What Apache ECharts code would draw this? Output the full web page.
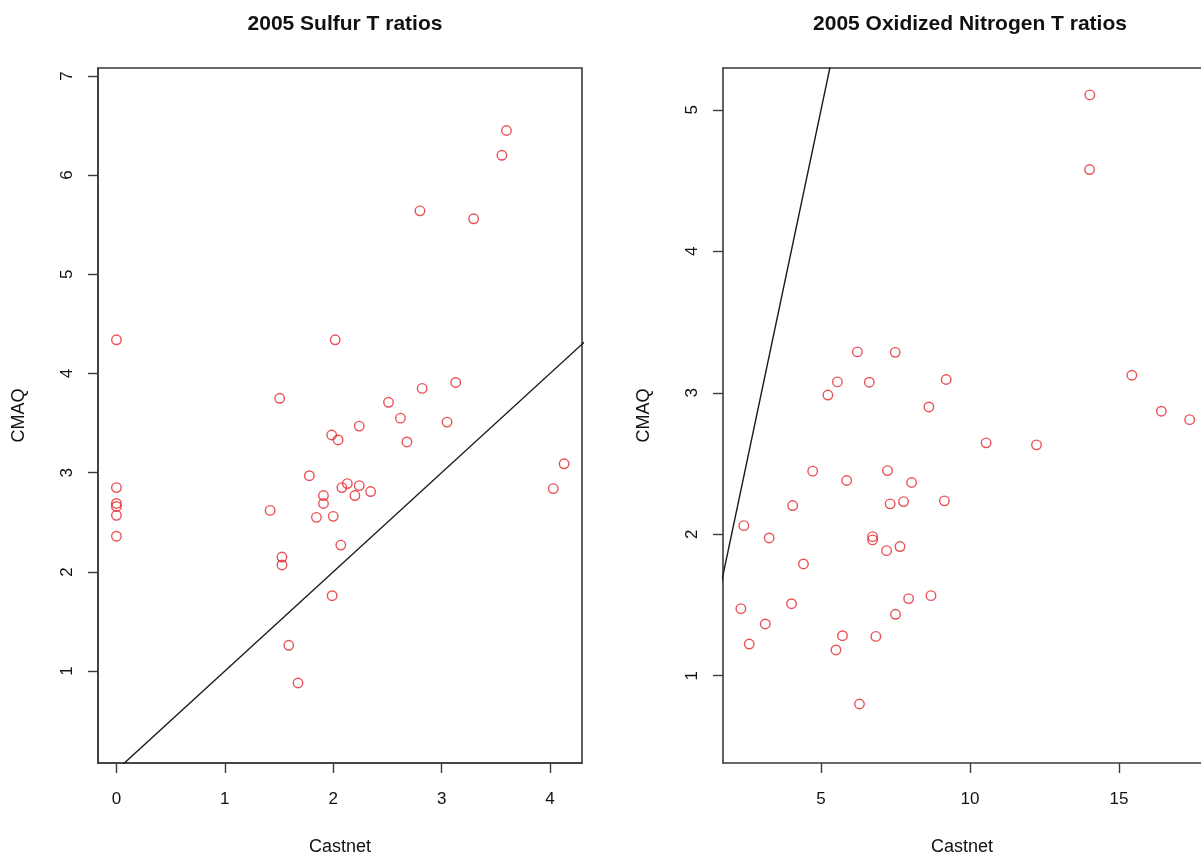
<!DOCTYPE html>
<html>
<head>
<meta charset="utf-8">
<script src="https://cdn.jsdelivr.net/npm/echarts@6/dist/echarts.min.js"></script>
<style>
html,body{margin:0;padding:0;background:#fff;}
#chart{width:1201px;height:861px;}
</style>
</head>
<body>
<div id="chart"></div>
<script>
// ---- Data ----
const titles = ["2005 Sulfur T ratios", "2005 Oxidized Nitrogen T ratios"];
const xName = "Castnet";
const yName = "CMAQ";

const sulfurCastnet = [0,0,0,0,0,0,1.418,1.527,1.527,1.59,1.675,1.78,1.845,1.91,1.91,1.986,2.045,2.0,1.99,2.07,2.08,2.13,2.20,2.24,2.345,2.68,4.03,4.13,2.018,3.598,3.556,2.80,3.295,1.506,2.51,2.62,2.82,3.13,3.05,2.24];
const sulfurCmaq    = [4.34,2.85,2.69,2.66,2.57,2.36,2.62,2.15,2.07,1.26,0.88,2.97,2.55,2.77,2.69,3.38,3.33,2.56,1.76,2.27,2.85,2.89,2.77,2.87,2.81,3.31,2.84,3.09,4.34,6.45,6.20,5.64,5.56,3.75,3.71,3.55,3.85,3.91,3.51,3.47];

const nitrogenCastnet = [14.02,14.01,6.22,7.49,5.55,6.62,5.23,9.20,8.62,15.43,16.42,17.37,10.54,12.23,4.72,7.23,5.86,8.04,4.05,7.32,7.77,9.14,2.41,3.26,6.73,6.73,7.20,7.65,4.41,2.31,4.01,7.94,8.69,7.50,3.13,5.72,6.84,2.59,5.50,6.29];
const nitrogenCmaq    = [5.106,4.578,3.289,3.286,3.077,3.075,2.984,3.094,2.90,3.124,2.87,2.81,2.646,2.632,2.446,2.45,2.38,2.366,2.203,2.215,2.231,2.236,2.061,1.974,1.983,1.96,1.884,1.913,1.79,1.474,1.509,1.545,1.566,1.434,1.366,1.283,1.278,1.224,1.182,0.80];

const sulfurXTicks = [0,1,2,3,4];
const sulfurYTicks = [1,2,3,4,5,6,7];
const nitrogenXTicks = [5,10,15];
const nitrogenYTicks = [1,2,3,4,5];

// axis extents (right panel is cut off by the picture's right edge)
const sulfurXRange = [-0.17, 4.295];
const sulfurYRange = [0.0735, 7.08];
const nitrogenXRange = [1.711, 17.75];
const nitrogenYRange = [0.383, 5.296];

// 1:1 reference line (y = intercept + slope * x)
const refIntercept = 0, refSlope = 1;

// ---- Chart ----
const FONT = '"Liberation Sans", Arial, Helvetica, sans-serif';
const AXC = '#3a3a3a';
const RED = '#e3262d';

function zip(a, b){ return a.map((v,i)=>[v,b[i]]); }
function refLine(range){
  const lo = range[0]-1, hi = range[1]+1;
  return [[lo, refIntercept+refSlope*lo],[hi, refIntercept+refSlope*hi]];
}
function xAxisOf(idx, range, ticks){
  return {
    type:'value', gridIndex:idx, min:range[0], max:range[1], position:'bottom',
    name:xName, nameLocation:'middle', nameGap:75,
    nameTextStyle:{fontFamily:FONT, fontSize:18, color:'#111'},
    axisLine:{show:true, onZero:false, lineStyle:{color:AXC, width:1.6}},
    axisTick:{show:true, length:10, customValues:ticks, lineStyle:{color:AXC, width:1.4}},
    axisLabel:{show:true, customValues:ticks, margin:28, fontFamily:FONT, fontSize:17, color:'#111'},
    splitLine:{show:false}
  };
}
function topBorderAxis(idx, range){
  return {
    type:'value', gridIndex:idx, min:range[0], max:range[1], position:'top',
    axisLine:{show:true, onZero:false, lineStyle:{color:AXC, width:1.6}},
    axisTick:{show:false}, axisLabel:{show:false}, splitLine:{show:false}
  };
}
function yAxisOf(idx, range, ticks){
  return {
    type:'value', gridIndex:idx, min:range[0], max:range[1], position:'left',
    name:yName, nameLocation:'middle', nameGap:70,
    nameTextStyle:{fontFamily:FONT, fontSize:18, color:'#111'},
    axisLine:{show:true, onZero:false, lineStyle:{color:AXC, width:1.6}},
    axisTick:{show:true, length:10, customValues:ticks, lineStyle:{color:AXC, width:1.4}},
    axisLabel:{show:true, customValues:ticks, rotate:90, margin:22, fontFamily:FONT, fontSize:17, color:'#111'},
    splitLine:{show:false}
  };
}
function scatterOf(idx, xs, ys){
  return {
    type:'scatter', xAxisIndex:idx, yAxisIndex:idx, data:zip(xs, ys),
    symbol:'circle', symbolSize:9.5,
    itemStyle:{color:'rgba(0,0,0,0)', borderColor:RED, borderWidth:1.4},
    emphasis:{disabled:true}, silent:true, z:3
  };
}
function lineOf(idx, xr){
  return {
    type:'line', xAxisIndex:idx, yAxisIndex:idx, data:refLine(xr),
    showSymbol:false, clip:true, silent:true,
    lineStyle:{color:'#1a1a1a', width:1.4}, z:2
  };
}

const chart = echarts.init(document.getElementById('chart'), null, {renderer:'canvas'});
chart.setOption({
  backgroundColor:'#ffffff',
  animation:false,
  title:[
    {text:titles[0], left:340, top:9, textAlign:'center',
     textStyle:{fontFamily:FONT, fontSize:21, fontWeight:'bold', color:'#111'}},
    {text:titles[1], left:965, top:9, textAlign:'center',
     textStyle:{fontFamily:FONT, fontSize:21, fontWeight:'bold', color:'#111'}}
  ],
  grid:[
    {left:98, top:68, width:484, height:696, show:true, borderColor:AXC, borderWidth:1.6, backgroundColor:'transparent'},
    {left:723, top:68, right:0, height:696, show:false}
  ],
  xAxis:[ xAxisOf(0, sulfurXRange, sulfurXTicks), xAxisOf(1, nitrogenXRange, nitrogenXTicks), topBorderAxis(1, nitrogenXRange) ],
  yAxis:[ yAxisOf(0, sulfurYRange, sulfurYTicks), yAxisOf(1, nitrogenYRange, nitrogenYTicks) ],
  series:[
    lineOf(0, sulfurXRange),
    scatterOf(0, sulfurCastnet, sulfurCmaq),
    lineOf(1, nitrogenXRange),
    scatterOf(1, nitrogenCastnet, nitrogenCmaq)
  ]
});
</script>
</body>
</html>
